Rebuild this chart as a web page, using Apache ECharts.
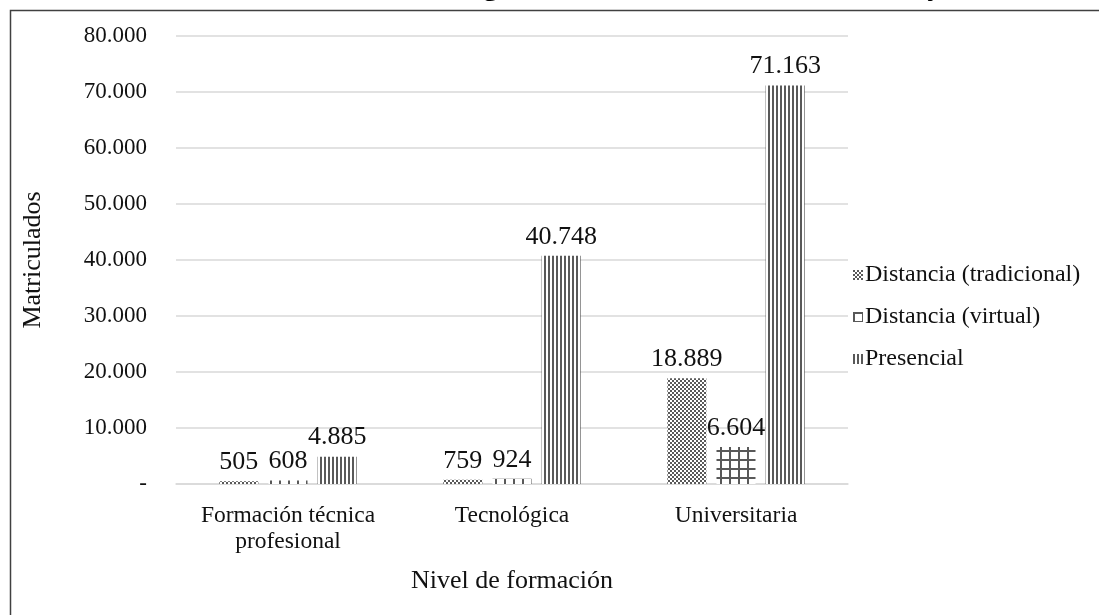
<!DOCTYPE html>
<html>
<head>
<meta charset="utf-8">
<script src="https://cdn.jsdelivr.net/npm/echarts@6/dist/echarts.min.js"></script>
<style>
html,body{margin:0;padding:0;background:#fff;}
#chart{width:1099px;height:615px;}
</style>
</head>
<body>
<div id="chart"></div>
<script>
const categories = ['Formación técnica\nprofesional', 'Tecnológica', 'Universitaria'];
const seriesNames = ['Distancia (tradicional)', 'Distancia (virtual)', 'Presencial'];
const distanciaTradicional = [505, 759, 18889];
const distanciaVirtual = [608, 924, 6604];
const presencial = [4885, 40748, 71163];
const yTicks = [0, 10000, 20000, 30000, 40000, 50000, 60000, 70000, 80000];
const titleText = 'Matriculados según nivel de formación académica y modalidad';

const FONT = '"Liberation Serif", "Times New Roman", serif';
const DARK = '#595959';
const TEXT = '#111111';

function makePattern(size, draw) {
  const c = document.createElement('canvas');
  c.width = size; c.height = size;
  const ctx = c.getContext('2d');
  ctx.fillStyle = '#ffffff';
  ctx.fillRect(0, 0, size, size);
  ctx.fillStyle = DARK;
  draw(ctx);
  return { image: c, repeat: 'repeat' };
}
const checker = makePattern(4, ctx => { ctx.fillRect(0,0,2,2); ctx.fillRect(2,2,2,2); });
const gridPat = makePattern(9, ctx => { ctx.fillRect(0,0,2,9); ctx.fillRect(0,0,9,2); });
const stripes = makePattern(4, ctx => { ctx.fillRect(0,0,2,4); });

function fmt(v) {
  if (v === 0) return '-';
  return String(v).replace(/\B(?=(\d{3})+(?!\d))/g, '.');
}

// size & place the title so only its descenders show above the frame
const mc = document.createElement('canvas').getContext('2d');
mc.font = 'bold 100px ' + FONT;
const gi = titleText.indexOf('g'), yi = titleText.indexOf(' y ') + 1;
const gC = mc.measureText(titleText.slice(0, gi)).width + mc.measureText('g').width / 2;
const yC = mc.measureText(titleText.slice(0, yi)).width + mc.measureText('y').width / 2;
const TITLE_SIZE = Math.round(100 * 447 / (yC - gC));
const titleLeft = Math.round(491 - gC * TITLE_SIZE / 100);
const titleTop = Math.round(-0.86 * TITLE_SIZE - 2);

const chart = echarts.init(document.getElementById('chart'));
const labelCfg = {
  show: true, position: 'top', distance: 6,
  fontFamily: FONT, fontSize: 26, color: TEXT,
  formatter: p => fmt(p.value)
};
function bar(name, data, pattern) {
  return {
    name: name, type: 'bar', data: data, barWidth: 39, barGap: '26%',
    itemStyle: { color: pattern }, label: labelCfg
  };
}
chart.setOption({
  backgroundColor: '#fff',
  animation: false,
  title: {
    text: titleText, left: titleLeft, top: titleTop, padding: 0,
    textStyle: { fontFamily: FONT, fontWeight: 'bold', fontSize: TITLE_SIZE, color: '#000' }
  },
  graphic: [{
    type: 'rect', left: 8, top: 8, z: 100, silent: true,
    shape: { x: 0, y: 0, width: 1300, height: 800 },
    style: { fill: null, stroke: '#404040', lineWidth: 1.5 }
  }],
  legend: {
    orient: 'vertical', left: 848, top: 258, itemGap: 18,
    itemWidth: 10, itemHeight: 10, icon: 'rect',
    textStyle: { fontFamily: FONT, fontSize: 24, color: TEXT, padding: [0,0,0,-3] },
    data: seriesNames
  },
  grid: { left: 176, right: 251, top: 36, bottom: 131 },
  xAxis: {
    type: 'category', data: categories,
    name: 'Nivel de formación', nameLocation: 'middle', nameGap: 84,
    nameTextStyle: { fontFamily: FONT, fontSize: 26, color: TEXT },
    axisLine: { lineStyle: { color: '#d9d9d9', width: 1.5 } },
    axisTick: { show: false },
    axisLabel: { interval: 0, fontFamily: FONT, fontSize: 23.5, color: TEXT, margin: 19, lineHeight: 26 }
  },
  yAxis: {
    type: 'value', min: yTicks[0], max: yTicks[yTicks.length - 1], interval: yTicks[1] - yTicks[0],
    name: 'Matriculados', nameLocation: 'middle', nameGap: 130, nameRotate: 90,
    nameTextStyle: { fontFamily: FONT, fontSize: 26, color: TEXT },
    axisLine: { show: false }, axisTick: { show: false },
    splitLine: { lineStyle: { color: '#d9d9d9', width: 1.5 } },
    axisLabel: { fontFamily: FONT, fontSize: 23, color: TEXT, margin: 29, formatter: fmt }
  },
  series: [
    bar(seriesNames[0], distanciaTradicional, checker),
    bar(seriesNames[1], distanciaVirtual, gridPat),
    bar(seriesNames[2], presencial, stripes)
  ]
});
</script>
</body>
</html>
